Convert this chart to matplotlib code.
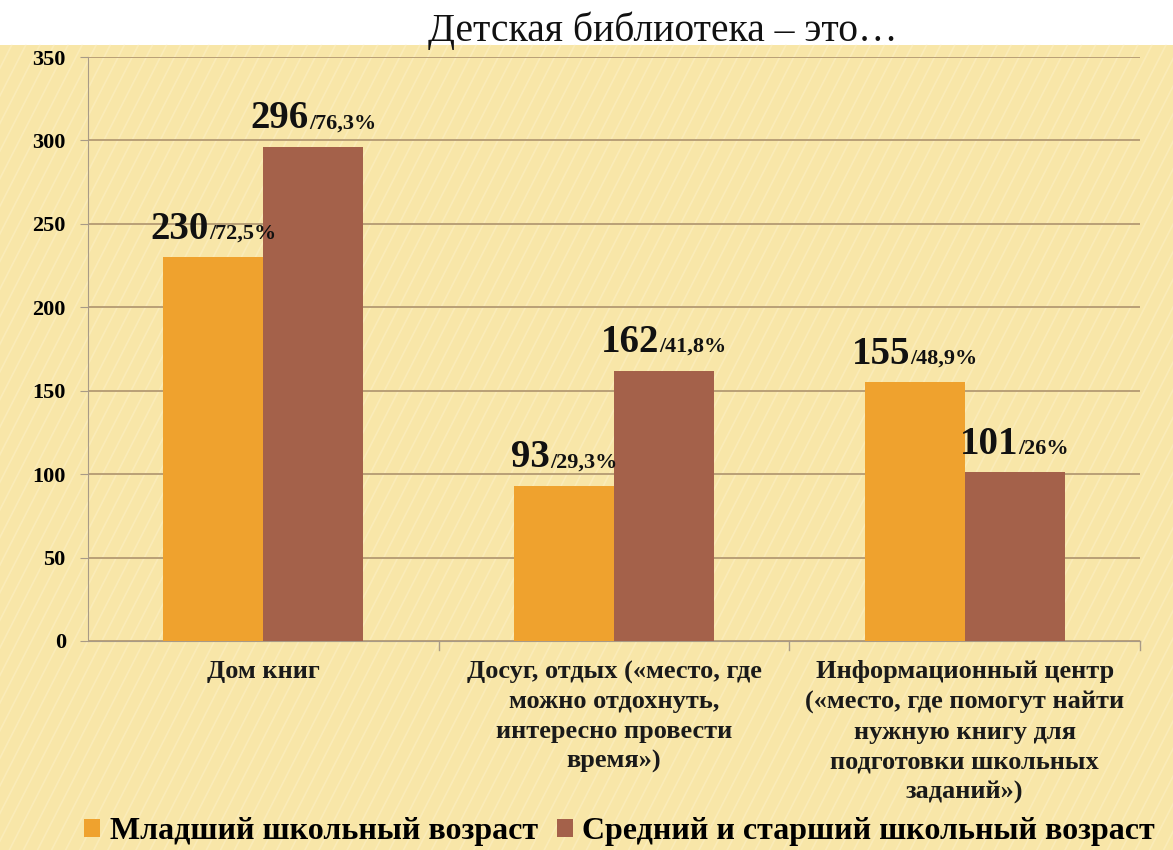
import matplotlib
matplotlib.use("Agg")
import matplotlib.pyplot as plt
import numpy as np
from matplotlib.offsetbox import TextArea, HPacker, AnnotationBbox
from matplotlib.patches import Rectangle
from matplotlib.lines import Line2D

categories = ["Дом книг",
              "Досуг, отдых («место, где\nможно отдохнуть,\nинтересно провести\nвремя»)",
              "Информационный центр\n(«место, где помогут найти\nнужную книгу для\nподготовки школьных\nзаданий»)"]
series_names = ["Младший школьный возраст", "Средний и старший школьный возраст"]
junior = [230, 93, 155]
junior_pct = ["72,5%", "29,3%", "48,9%"]
senior = [296, 162, 101]
senior_pct = ["76,3%", "41,8%", "26%"]
colors = ["#EFA22E", "#A4614A"]
title = "Детская библиотека – это…"

plt.rcParams['font.family'] = ['Liberation Serif', 'DejaVu Serif']

fig = plt.figure(figsize=(11.73, 8.5), dpi=100)
fig.patch.set_facecolor("#F8E6A8")
# white band at top of slide
fig.add_artist(Rectangle((0, 1 - 45/850), 1, 45/850, transform=fig.transFigure,
                         facecolor="white", edgecolor="none", zorder=0))
# subtle diagonal stripes
for k in np.arange(-1.0, 1.6, 0.012):
    fig.add_artist(Line2D([k, k + 0.35], [0, 1 - 45/850], transform=fig.transFigure,
                          color="#FFF6D6", lw=1.2, alpha=0.35, zorder=0))

ax = fig.add_axes([88/1173, 1 - 641/850, (1140 - 88)/1173, (641 - 57)/850])
ax.set_facecolor("none")

x = np.arange(len(categories))
w = 0.285
b1 = ax.bar(x - w/2, junior, w, color=colors[0], label=series_names[0], zorder=3)
b2 = ax.bar(x + w/2, senior, w, color=colors[1], label=series_names[1], zorder=3)

ax.set_xlim(-0.5, len(categories) - 0.5)
ax.set_ylim(0, 350)
ax.set_yticks(np.arange(0, 351, 50))
ax.yaxis.grid(True, color="#B49A72", lw=1.3, zorder=1)
ax.set_axisbelow(True)
for s in ["top", "right"]:
    ax.spines[s].set_visible(False)
ax.spines["left"].set_color("#A89A86")
ax.spines["bottom"].set_color("#A89A86")
ax.tick_params(axis="y", length=6, color="#A89A86", labelsize=16, pad=10)
for t in ax.get_yticklabels():
    t.set_fontweight("bold")
ax.set_xticks(x)
ax.set_xticklabels(categories, fontsize=19, fontweight="bold", linespacing=1.38,
                   va="top", ha="center", color="#1A1A1A")
ax.tick_params(axis="x", length=0, pad=14)
# category separator ticks
for pos in [0.5, 1.5, 2.5]:
    ax.plot([pos, pos], [0, -0.015], transform=ax.get_xaxis_transform(),
            color="#A89A86", lw=1, clip_on=False)

def add_label(xpos, val, pct):
    t1 = TextArea(str(val), textprops=dict(fontsize=28, fontweight="bold", color="#111111"))
    t2 = TextArea("/" + pct, textprops=dict(fontsize=16, fontweight="bold", color="#111111"))
    box = HPacker(children=[t1, t2], align="baseline", pad=0, sep=0)
    ab = AnnotationBbox(box, (xpos, val), xybox=(0, 7), boxcoords="offset points",
                        box_alignment=(0.5, 0), frameon=False, zorder=5)
    ax.add_artist(ab)

for i in range(len(categories)):
    add_label(x[i] - w/2, junior[i], junior_pct[i])
    add_label(x[i] + w/2, senior[i], senior_pct[i])

fig.text(663/1173, 1 - 31/850, title, ha="center", va="center", fontsize=28.5,
         color="#111111")

leg = fig.legend(handles=[b1, b2], labels=series_names, loc="center left",
                 bbox_to_anchor=(84/1173, 1 - 832/850), ncol=2, frameon=False,
                 prop=dict(size=23, weight="bold"), handlelength=0.5, handleheight=0.5,
                 handletextpad=0.3, columnspacing=0.6, borderaxespad=0, borderpad=0)

fig.savefig("out.png", dpi=100, facecolor=fig.get_facecolor())
